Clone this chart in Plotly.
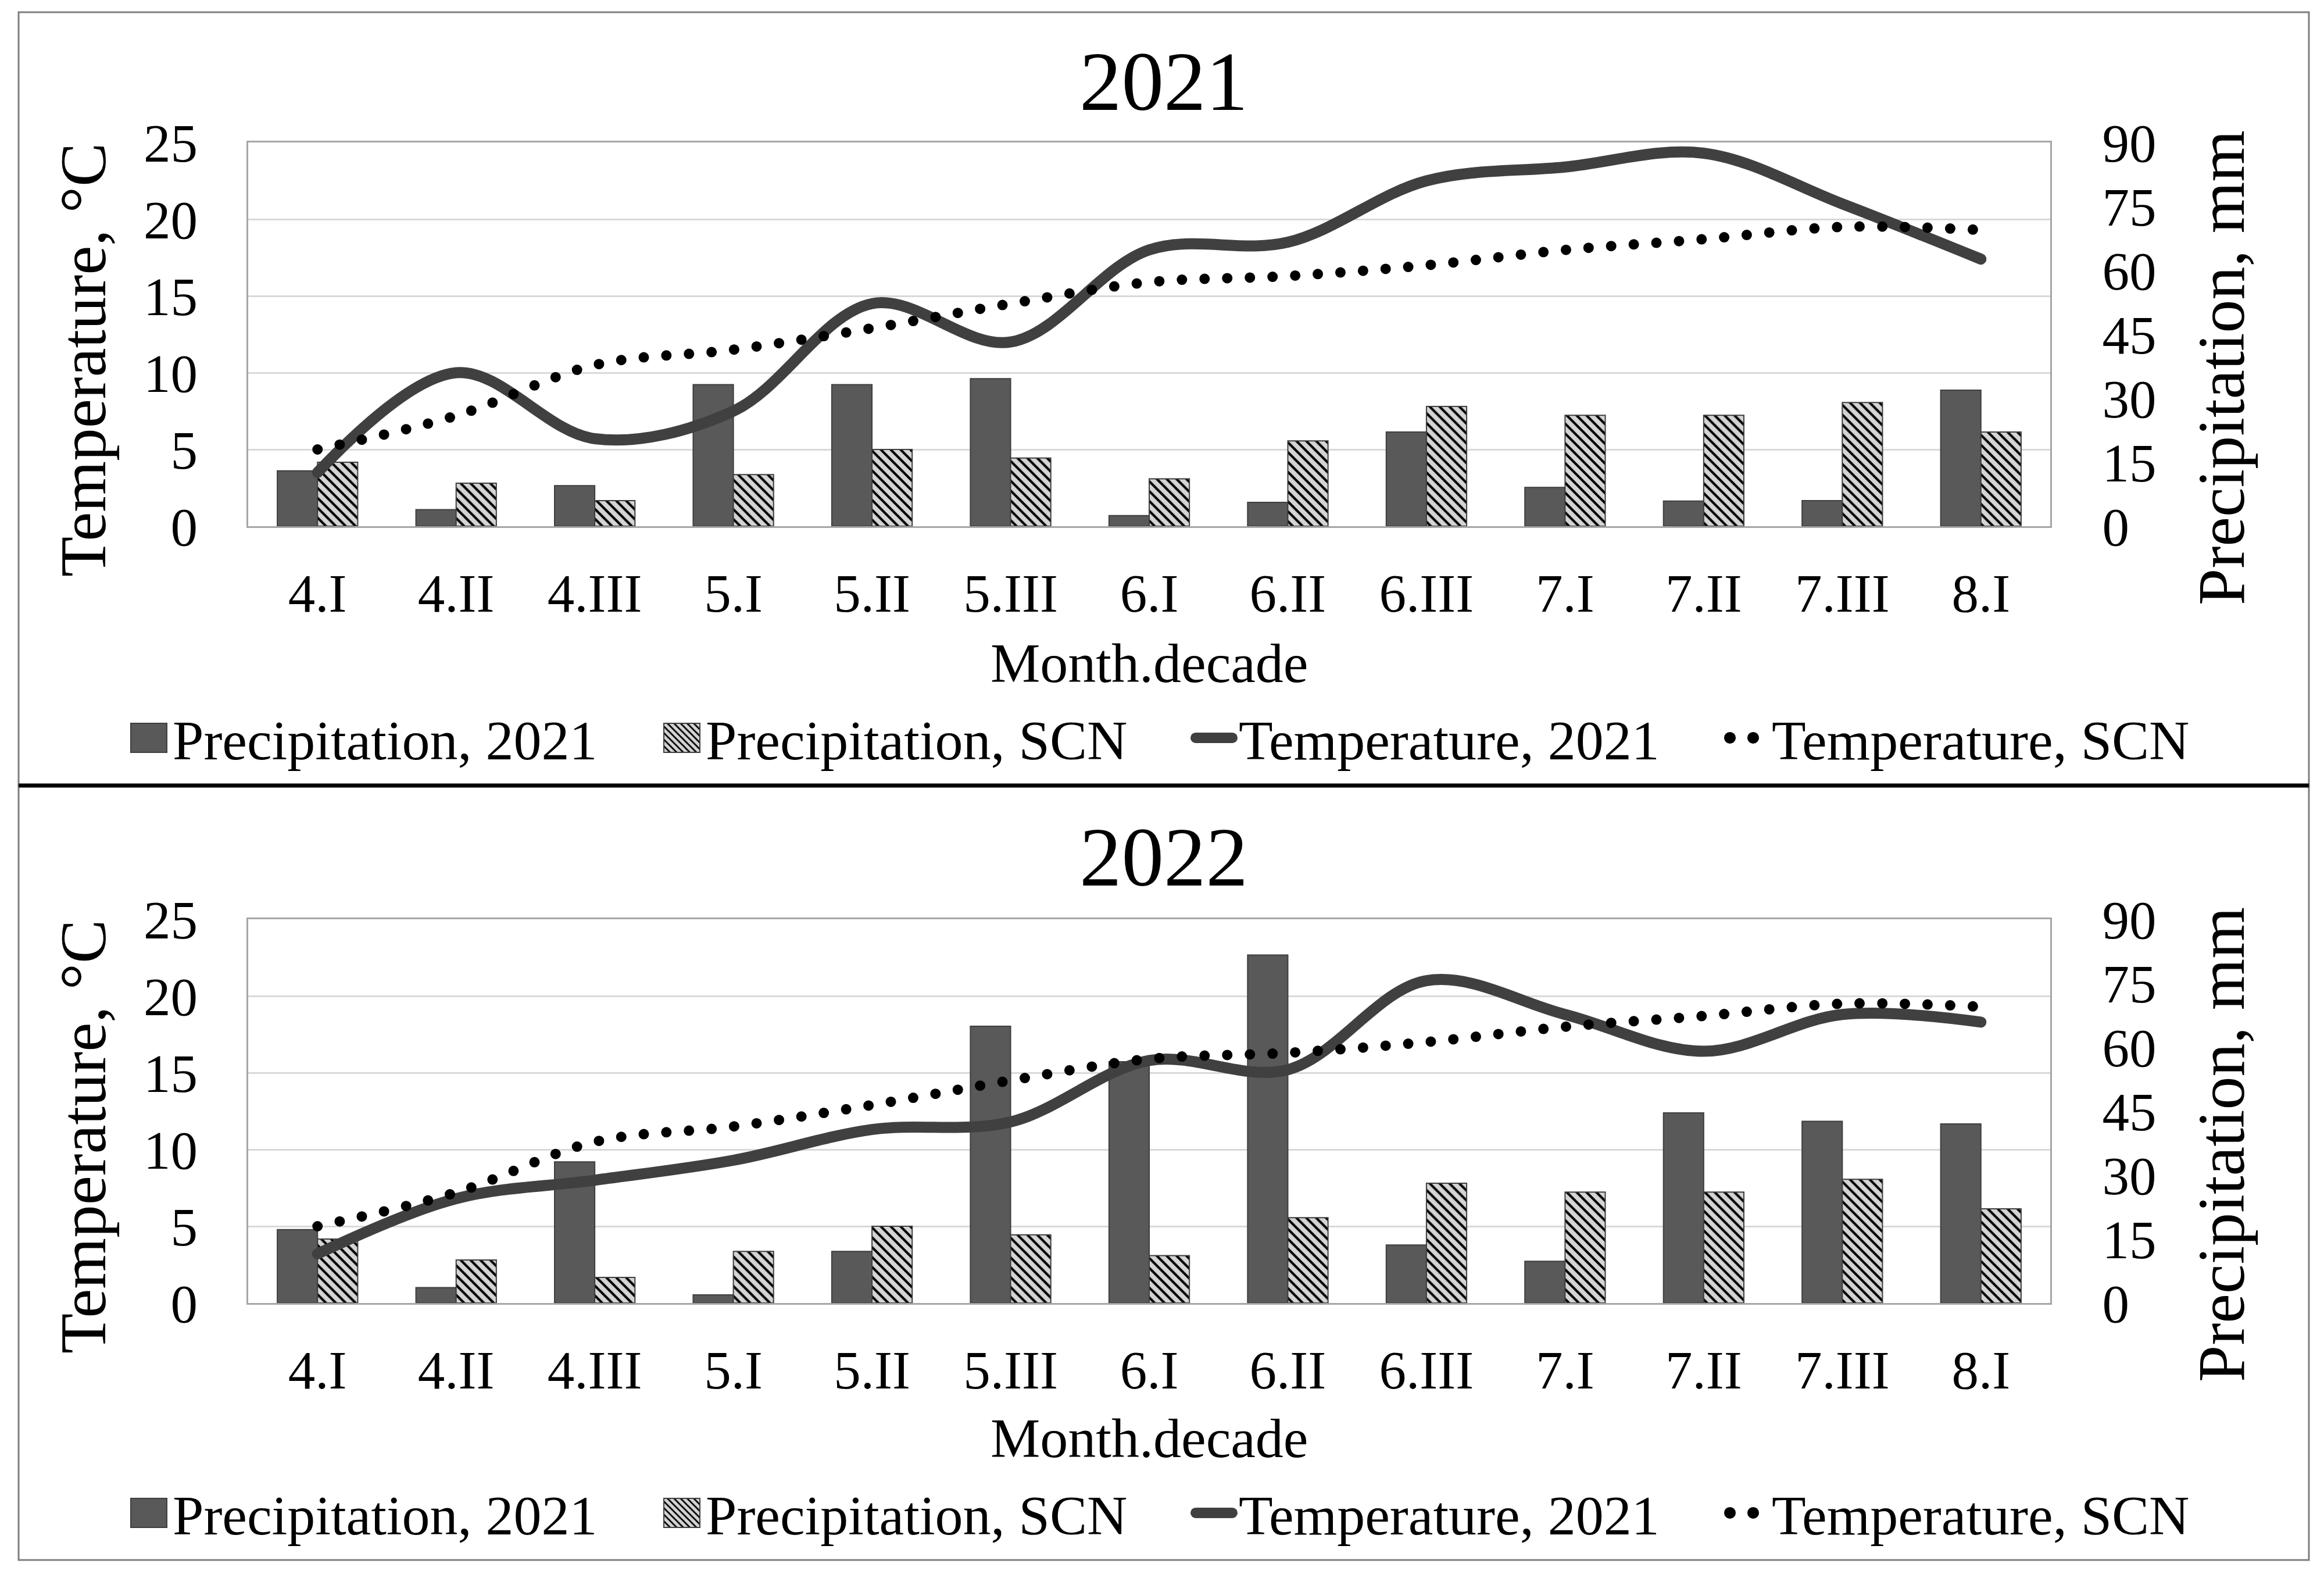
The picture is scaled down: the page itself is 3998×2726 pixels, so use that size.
import plotly.graph_objects as go

# ---------------- data ----------------
categories = ["4.I", "4.II", "4.III", "5.I", "5.II", "5.III", "6.I",
              "6.II", "6.III", "7.I", "7.II", "7.III", "8.I"]

precip_2021 = [13.0, 3.9, 9.5, 33.2, 33.2, 34.6, 2.5, 5.6, 22.1, 9.1, 5.9, 6.0, 31.9]
precip_2022 = [17.2, 3.6, 33.1, 1.9, 12.1, 64.9, 56.6, 81.6, 13.6, 9.8, 44.6, 42.6, 42.0]
precip_scn = [15.0, 10.1, 6.0, 12.1, 18.0, 16.0, 11.1, 20.0, 28.1, 26.0, 26.0, 29.0, 22.1]

temp_2021 = [3.5, 10.0, 5.7, 7.5, 14.5, 12.0, 18.0, 18.5, 22.5, 23.4, 24.3, 21.0, 17.4]
temp_2022 = [3.2, 6.8, 8.0, 9.3, 11.3, 11.8, 15.8, 15.2, 21.0, 18.8, 16.4, 18.8, 18.3]
temp_scn = [5.0, 7.2, 10.5, 11.5, 12.9, 14.5, 15.9, 16.3, 17.0, 18.0, 18.7, 19.5, 19.3]

panel_titles = ["2021", "2022"]
legend_names = ["Precipitation, 2021", "Precipitation, SCN",
                "Temperature, 2021", "Temperature, SCN"]
temp_ticks = [0, 5, 10, 15, 20, 25]
precip_ticks = [0, 15, 30, 45, 60, 75, 90]

# ---------------- layout helpers ----------------
W, H = 3998, 2726
FONT = "Liberation Serif"


def fx(px):
    return px / W


def fy(py):
    return 1 - py / H


panels = [
    dict(xa="x", yp="y", yt="y2", precip=precip_2021, temp=temp_2021,
         legend="legend", top=245, bottom=905, title_y=140, xt_y=1140, leg_y=1269,
         lt_y=619, rt_y=633),
    dict(xa="x2", yp="y3", yt="y4", precip=precip_2022, temp=temp_2022,
         legend="legend2", top=1581, bottom=2241, title_y=1474, xt_y=2473, leg_y=2602,
         lt_y=1955, rt_y=1969),
]

fig = go.Figure()

for p in panels:
    fig.add_trace(go.Bar(
        x=categories, y=p["precip"], name=legend_names[0],
        xaxis=p["xa"], yaxis=p["yp"], legend=p["legend"],
        marker=dict(color="#595959", line=dict(color="#3f3f3f", width=2)),
    ))
    fig.add_trace(go.Bar(
        x=categories, y=precip_scn, name=legend_names[1],
        xaxis=p["xa"], yaxis=p["yp"], legend=p["legend"],
        marker=dict(color="#d4d4d4", line=dict(color="#3f3f3f", width=2),
                    pattern=dict(shape="\\", fgcolor="#000000", bgcolor="#d4d4d4",
                                 size=12, solidity=0.35, fillmode="replace")),
    ))
    fig.add_trace(go.Scatter(
        x=categories, y=p["temp"], name=legend_names[2], mode="lines",
        xaxis=p["xa"], yaxis=p["yt"], legend=p["legend"],
        line=dict(color="#404040", width=19, shape="spline", smoothing=1.0),
    ))
    fig.add_trace(go.Scatter(
        x=categories, y=temp_scn, name=legend_names[3], mode="lines",
        xaxis=p["xa"], yaxis=p["yt"], legend=p["legend"],
        line=dict(color="#000000", width=18, dash="0px,39px", shape="spline", smoothing=1.0),
    ))

tickfont = dict(family=FONT, size=93, color="#000000")
axis_line = dict(showline=True, linecolor="#a6a6a6", linewidth=3, mirror=True)

layout = dict(
    width=W, height=H,
    margin=dict(l=0, r=0, t=0, b=0, pad=0, autoexpand=False),
    paper_bgcolor="white", plot_bgcolor="white",
    barmode="group", bargap=0.42, bargroupgap=0,
    font=dict(family=FONT, color="#000000"),
    annotations=[], shapes=[],
)

xdom = [fx(427), fx(3527)]
for i, p in enumerate(panels):
    xk = "xaxis" if i == 0 else "xaxis2"
    ypk = "yaxis" if i == 0 else "yaxis3"
    ytk = "yaxis2" if i == 0 else "yaxis4"
    ydom = [fy(p["bottom"]), fy(p["top"])]
    layout[xk] = dict(domain=xdom, anchor=p["yp"], type="category",
                      range=[-0.5, len(categories) - 0.5],
                      tickfont=tickfont, ticks="", showgrid=False,
                      ticklabelstandoff=32, **axis_line)
    layout[ypk] = dict(domain=ydom, anchor=p["xa"], side="right",
                       range=[0, 90], tickvals=precip_ticks, tickfont=tickfont,
                       ticks="", showgrid=False, zeroline=False,
                       ticklabelstandoff=68, **axis_line)
    layout[ytk] = dict(overlaying=p["yp"], anchor=p["xa"], side="left",
                       range=[0, 25], tickvals=temp_ticks, tickfont=tickfont,
                       ticks="", showgrid=True, gridcolor="#d9d9d9", gridwidth=3,
                       zeroline=False, showline=False, ticklabelstandoff=86)
    layout[p["legend"]] = dict(
        orientation="h", x=fx(215), xanchor="left", y=fy(p["leg_y"]), yanchor="middle",
        font=dict(family=FONT, size=96, color="#000000"),
        itemwidth=72, entrywidth=830, entrywidthmode="pixels",
        bgcolor="rgba(0,0,0,0)", borderwidth=0, tracegroupgap=0,
        traceorder="normal", itemclick=False, itemdoubleclick=False,
    )
    layout["annotations"] += [
        dict(text=panel_titles[i], x=fx(2002), y=fy(p["title_y"]), xref="paper", yref="paper",
             xanchor="center", yanchor="middle", showarrow=False,
             font=dict(family=FONT, size=145, color="#000000")),
        dict(text="Temperature, °C", x=fx(143), y=fy(p["lt_y"]), xref="paper", yref="paper",
             xanchor="center", yanchor="middle", showarrow=False, textangle=-90,
             font=dict(family=FONT, size=113, color="#000000")),
        dict(text="Precipitation, mm", x=fx(3821), y=fy(p["rt_y"]), xref="paper", yref="paper",
             xanchor="center", yanchor="middle", showarrow=False, textangle=-90,
             font=dict(family=FONT, size=114, color="#000000")),
        dict(text="Month.decade", x=fx(1977), y=fy(p["xt_y"]), xref="paper", yref="paper",
             xanchor="center", yanchor="middle", showarrow=False,
             font=dict(family=FONT, size=96, color="#000000")),
    ]

# panel frames
layout["shapes"] += [
    dict(type="rect", xref="paper", yref="paper", x0=fx(32), x1=fx(3972),
         y0=fy(1351), y1=fy(21), line=dict(color="#7f7f7f", width=3)),
    dict(type="rect", xref="paper", yref="paper", x0=fx(32), x1=fx(3972),
         y0=fy(2683), y1=fy(1351), line=dict(color="#7f7f7f", width=3)),
    dict(type="line", xref="paper", yref="paper", x0=fx(32), x1=fx(3972),
         y0=fy(1351), y1=fy(1351), line=dict(color="#000000", width=7)),
]

fig.update_layout(**layout)

css = """
body { margin: 0; }
.js-line { stroke-linecap: round; }
.legend .legendpoints path, .legend2 .legendpoints path { d: path("M31,25H-31V-25H31Z"); }
.legend .legendlines path.js-line, .legend2 .legendlines path.js-line { d: path("M8,0h63"); stroke-width: 18px !important; }
.legend .legendlines path.js-line[style*="dasharray"], .legend2 .legendlines path.js-line[style*="dasharray"] { d: path("M10,0h40.5"); stroke-width: 20px !important; stroke-dasharray: 0px 40px !important; }
"""
post = ("var s=document.createElement('style');s.textContent=" + repr(css).replace("\n", " ") +
        ";document.head.appendChild(s);")

fig.write_html("out.html", config={"displayModeBar": False}, post_script=post)
